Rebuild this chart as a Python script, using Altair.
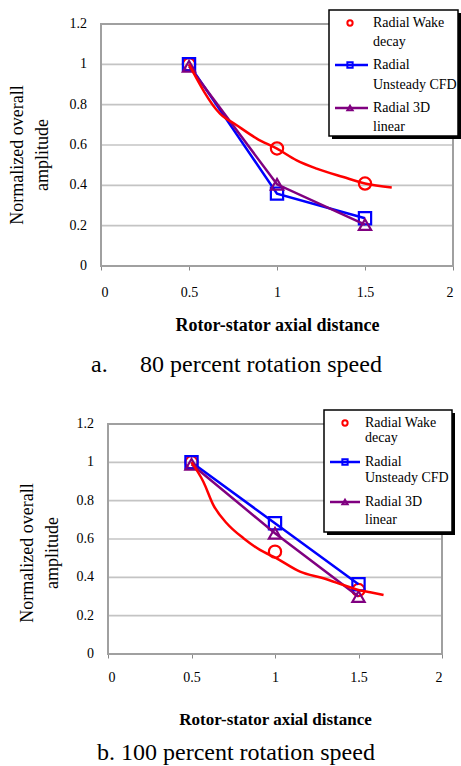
import altair as alt
import pandas as pd

FONT = "Times New Roman, Liberation Serif, DejaVu Serif, serif"

X_TICKS = [0, 0.5, 1, 1.5, 2]
Y_TICKS = [0, 0.2, 0.4, 0.6, 0.8, 1.0, 1.2]
X_POINTS = [0.5, 1.0, 1.5]

# panel a: 80 percent rotation speed
A_CURVE_X = [0.5, 0.676, 0.771, 0.885, 1.0, 1.112, 1.225, 1.377, 1.5, 1.652]
A_CURVE_Y = [1.0, 0.756, 0.698, 0.632, 0.582, 0.524, 0.483, 0.441, 0.409, 0.389]
A_WAKE = [1.0, 0.583, 0.409]
A_CFD = [1.0, 0.359, 0.237]
A_LIN = [0.99, 0.405, 0.205]

# panel b: 100 percent rotation speed
B_CURVE_X = [0.5, 0.571, 0.631, 0.711, 0.811, 0.910, 1.01, 1.15, 1.29, 1.41, 1.5, 1.57, 1.65]
B_CURVE_Y = [1.0, 0.899, 0.777, 0.682, 0.604, 0.543, 0.499, 0.430, 0.395, 0.36, 0.334, 0.322, 0.308]
B_WAKE = [1.0, 0.534, 0.334]
B_CFD = [1.0, 0.682, 0.364]
B_LIN = [0.99, 0.63, 0.30]

LEGEND_LINES = [["Radial Wake", "decay"], ["Radial", "Unsteady CFD"], ["Radial 3D", "linear"]]
COLORS = ["#ff0000", "#0000ff", "#800080"]
SHAPES = ["circle", "square", "triangle-up"]

X_TITLE = "Rotor-stator axial distance"
Y_TITLE = "Normalized overall\namplitude"
CAPTIONS = [("a.", "80 percent rotation speed"), ("", "b. 100 percent rotation speed")]

ONE = pd.DataFrame({"k": [0]})


def panel(curve_x, curve_y, wake, cfd, lin, lay):
    pw, ph, sh = lay["w"], lay["h"], lay["shift"]
    xs = alt.Scale(domain=[0, 2], range=[sh, sh + pw], nice=False, zero=False)
    ys = alt.Scale(domain=[0, 1.2], nice=False, zero=False)

    xaxis = alt.Axis(values=X_TICKS, format="~g", grid=False, domain=False, ticks=True,
                     tickSize=4, tickColor="#888888", labelFont=FONT, labelFontSize=lay["lfs"],
                     labelColor="black", labelPadding=lay["xlp"], labelOverlap=False,
                     title=X_TITLE, titleFont=FONT, titleFontSize=lay["xtfs"],
                     titleFontWeight="bold", titleColor="black", titlePadding=lay["xtp"],
                     titleX=sh + pw / 2)

    grid = alt.Chart(pd.DataFrame({"g": Y_TICKS})).mark_rule(
        color="#c4c4c4", strokeWidth=1.6).encode(
        y=alt.Y("g:Q", scale=ys, axis=None),
        x=alt.XDatum(0, scale=xs, axis=xaxis),
        x2=alt.datum(2))

    # y tick labels drawn from the tick list through the y scale
    ylabels = alt.Chart(pd.DataFrame({"g": Y_TICKS})).transform_calculate(
        lbl="format(datum.g, '~g')").mark_text(
        align="right", baseline="middle", font=FONT, fontSize=lay["lfs"], color="black").encode(
        y=alt.Y("g:Q", axis=None), x=alt.value(sh - 14), text="lbl:N")

    border = alt.Chart(ONE).mark_rect(fillOpacity=0, stroke="#a0a0a0", strokeWidth=2).encode(
        x=alt.datum(0), x2=alt.datum(2), y=alt.datum(0), y2=alt.datum(1.2))

    # white guard so both panels have identical left/top extents
    guard = alt.Chart(ONE).mark_rect(color="white").encode(
        x=alt.value(-98), x2=alt.value(-97), y=alt.value(-20), y2=alt.value(-19))

    layers = [guard, grid, ylabels, border]

    df_w = pd.DataFrame({"x": X_POINTS, "y": wake})
    layers.append(alt.Chart(df_w).mark_point(shape=SHAPES[0], filled=False, size=150,
                                             strokeWidth=2.2, color=COLORS[0], opacity=1).encode(
        x="x:Q", y="y:Q"))
    for vals, c, s in [(cfd, COLORS[1], SHAPES[1]), (lin, COLORS[2], SHAPES[2])]:
        d = pd.DataFrame({"x": X_POINTS, "y": vals})
        layers.append(alt.Chart(d).mark_line(color=c, strokeWidth=2.5).encode(x="x:Q", y="y:Q"))
        layers.append(alt.Chart(d).mark_point(shape=s, filled=False, size=150, strokeWidth=2.2,
                                              color=c, opacity=1).encode(x="x:Q", y="y:Q"))
    dc = pd.DataFrame({"x": curve_x, "y": curve_y})
    layers.append(alt.Chart(dc).mark_line(color=COLORS[0], strokeWidth=2.5,
                                          interpolate="monotone").encode(x="x:Q", y="y:Q"))

    # y title
    layers.append(alt.Chart(ONE).mark_text(angle=270, lineBreak="\n", lineHeight=25,
                                           fontSize=18, font=FONT, align="center",
                                           baseline="middle", color="black").encode(
        x=alt.value(lay["ytx"]), y=alt.value(lay["yty"]), text=alt.value(Y_TITLE)))

    # legend
    lx0, lx1, ly0, ly1 = lay["box"]
    layers.append(alt.Chart(ONE).mark_rect(color="black").encode(
        x=alt.value(lx0 + 3), x2=alt.value(lx1 + 3), y=alt.value(ly0 + 3), y2=alt.value(ly1 + 3)))
    layers.append(alt.Chart(ONE).mark_rect(fill="white", stroke="black", strokeWidth=1.5).encode(
        x=alt.value(lx0), x2=alt.value(lx1), y=alt.value(ly0), y2=alt.value(ly1)))
    for i in range(3):
        sy = lay["rows"][i][0]
        if i > 0:
            layers.append(alt.Chart(ONE).mark_rule(color=COLORS[i], strokeWidth=2.5).encode(
                x=alt.value(lay["lline"][0]), x2=alt.value(lay["lline"][1]), y=alt.value(sy)))
        layers.append(alt.Chart(ONE).mark_point(shape=SHAPES[i], filled=False,
                                                size=28, strokeWidth=2, color=COLORS[i],
                                                opacity=1).encode(
            x=alt.value(lay["lmark"]), y=alt.value(sy)))
        for j in range(2):
            layers.append(alt.Chart(ONE).mark_text(align="left", baseline="middle", font=FONT,
                                                   fontSize=lay["legfs"], color="black").encode(
                x=alt.value(lay["ltext"]), y=alt.value(lay["rows"][i][j]),
                text=alt.value(LEGEND_LINES[i][j])))

    # caption
    cap = lay["cap"]
    for (txt, cx) in cap["parts"]:
        if txt:
            layers.append(alt.Chart(ONE).mark_text(align="left", baseline="middle", font=FONT,
                                                   fontSize=cap["fs"], color="black").encode(
                x=alt.value(cx), y=alt.value(cap["y"]), text=alt.value(txt)))

    return alt.layer(*layers).properties(width=pw + sh, height=ph)


LAY_A = dict(w=352, h=242, shift=0, lfs=14, xlp=15, xtfs=18, xtp=17,
             ytx=-83, yty=131, box=(228, 357, -14, 112),
             rows=[(-1, 18), (41, 61), (84, 103)], lline=(234, 267), lmark=249, ltext=272,
             legfs=14,
             cap=dict(fs=24, y=341, parts=[(CAPTIONS[0][0], -10), (CAPTIONS[0][1], 39)]))
LAY_B = dict(w=334, h=230, shift=7, lfs=14, xlp=12, xtfs=17, xtp=27,
             ytx=-73, yty=129, box=(223, 351, -14, 108),
             rows=[(-1, 14), (38, 54), (78, 96)], lline=(229, 259), lmark=244, ltext=264,
             legfs=14,
             cap=dict(fs=24, y=329, parts=[(CAPTIONS[1][1], -4)]))

top = panel(A_CURVE_X, A_CURVE_Y, A_WAKE, A_CFD, A_LIN, LAY_A)
bottom = panel(B_CURVE_X, B_CURVE_Y, B_WAKE, B_CFD, B_LIN, LAY_B)

chart = alt.vconcat(top, bottom, spacing=158, bounds="flush").properties(
    padding={"left": 3, "top": 4, "right": 0, "bottom": 0}, background="white"
).configure_view(stroke=None)

chart.save("out.html", embed_options={"renderer": "svg", "actions": False})
